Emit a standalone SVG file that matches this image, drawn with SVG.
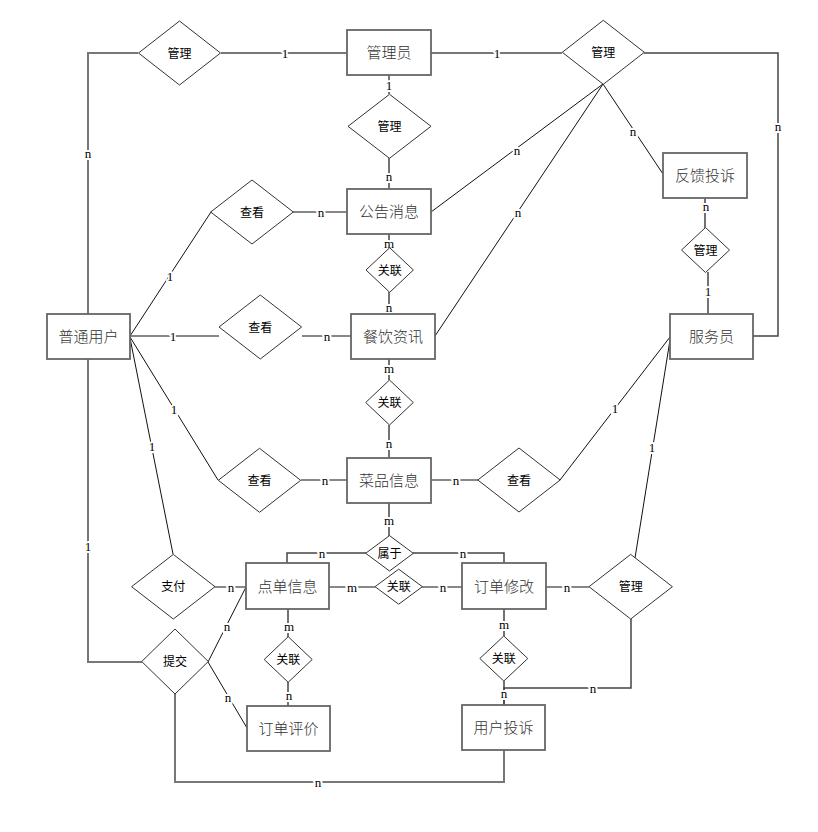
<svg xmlns="http://www.w3.org/2000/svg" width="818" height="832" viewBox="0 0 818 832">
<style>
.ent rect{fill:#fff;stroke:#666;stroke-width:1.8}
.ent text{font-family:"Noto Sans CJK SC","Noto Sans",sans-serif;font-size:15px;font-weight:300;fill:#333;text-anchor:middle;dominant-baseline:central}
.rel polygon{fill:#fff;stroke:#333;stroke-width:1}
.rel text{font-family:"Noto Sans CJK SC","Noto Sans",sans-serif;font-size:12px;fill:#000;text-anchor:middle;dominant-baseline:central}
#connectors path{fill:none;stroke:#111;stroke-width:1}
#connectors path.g{stroke:#777;stroke-width:2}
#connectors path.m{stroke:#444;stroke-width:1.5}
.lbl{font-family:"Liberation Serif",serif;font-size:13px;fill:#000;text-anchor:middle;dominant-baseline:central;paint-order:stroke;stroke:#fff;stroke-width:4px;stroke-linejoin:round}
</style>
<rect width="818" height="832" fill="#fff"/>
<g id="connectors">
<path class="g" d="M88,314V53H138"/>
<path class="g" d="M221,53H347"/>
<path class="g" d="M431,53H562"/>
<path class="m" d="M644,53H778V336H753"/>
<path class="g" d="M389,75V94"/>
<path class="m" d="M389,158V189"/>
<path d="M603,84L431,212"/>
<path d="M603,84L435,336"/>
<path d="M603,84L663,174"/>
<path class="m" d="M705,198V228"/>
<path class="m" d="M708,272V314"/>
<path d="M130,336L211,212"/>
<path d="M293,212H347"/>
<path d="M130,336H219"/>
<path d="M302,336H351"/>
<path class="m" d="M389,234V248"/>
<path class="m" d="M389,292V314"/>
<path class="m" d="M389,359V380"/>
<path class="m" d="M389,425V458"/>
<path d="M130,337L218,480"/>
<path d="M301,480H347"/>
<path d="M431,480H478"/>
<path d="M560,480L670,337"/>
<path d="M130,338L173,554"/>
<path class="g" d="M88,359V662H142"/>
<path d="M215,587H246"/>
<path d="M208,662L246,587"/>
<path d="M208,662L247,728"/>
<path class="g" d="M175,694V782H504V750"/>
<path class="m" d="M389,503V536"/>
<path class="m" d="M366,553H287V563"/>
<path class="m" d="M413,553H504V563"/>
<path d="M329,587H375"/>
<path d="M422,587H462"/>
<path d="M546,587H589"/>
<path d="M635,558L670,340"/>
<path class="m" d="M631,619V688H504V705"/>
<path class="m" d="M288,609V637"/>
<path class="m" d="M288,682V706"/>
<path class="m" d="M504,609V636"/>
<path class="m" d="M504,681V705"/>
<text class="lbl" x="88" y="153">n</text>
<text class="lbl" x="285" y="53">1</text>
<text class="lbl" x="497" y="53">1</text>
<text class="lbl" x="778" y="126">n</text>
<text class="lbl" x="389" y="85">1</text>
<text class="lbl" x="389" y="176">n</text>
<text class="lbl" x="517" y="150">n</text>
<text class="lbl" x="518" y="212">n</text>
<text class="lbl" x="633" y="131">n</text>
<text class="lbl" x="706" y="206">n</text>
<text class="lbl" x="708" y="291">1</text>
<text class="lbl" x="170" y="276">1</text>
<text class="lbl" x="321" y="212">n</text>
<text class="lbl" x="173" y="336">1</text>
<text class="lbl" x="327" y="336">n</text>
<text class="lbl" x="389" y="243">m</text>
<text class="lbl" x="389" y="307">n</text>
<text class="lbl" x="389" y="368">m</text>
<text class="lbl" x="389" y="443">n</text>
<text class="lbl" x="174" y="409">1</text>
<text class="lbl" x="325" y="480">n</text>
<text class="lbl" x="456" y="480">n</text>
<text class="lbl" x="615" y="408">1</text>
<text class="lbl" x="152" y="446">1</text>
<text class="lbl" x="88" y="546">1</text>
<text class="lbl" x="231" y="587">n</text>
<text class="lbl" x="227" y="626">n</text>
<text class="lbl" x="228" y="697">n</text>
<text class="lbl" x="318" y="782">n</text>
<text class="lbl" x="389" y="520">m</text>
<text class="lbl" x="322" y="553">n</text>
<text class="lbl" x="463" y="553">n</text>
<text class="lbl" x="352" y="587">m</text>
<text class="lbl" x="443" y="587">n</text>
<text class="lbl" x="567" y="587">n</text>
<text class="lbl" x="652" y="447">1</text>
<text class="lbl" x="593" y="688">n</text>
<text class="lbl" x="289" y="626">m</text>
<text class="lbl" x="289" y="695">n</text>
<text class="lbl" x="504" y="624">m</text>
<text class="lbl" x="504" y="693">n</text>
</g>
<g id="e-admin" class="ent"><rect x="347" y="30" width="84" height="45"/><text x="389" y="51.5">管理员</text></g>
<g id="e-feedback" class="ent"><rect x="663" y="153" width="84" height="45"/><text x="705" y="174.5">反馈投诉</text></g>
<g id="e-notice" class="ent"><rect x="347" y="189" width="84" height="45"/><text x="389" y="210.5">公告消息</text></g>
<g id="e-news" class="ent"><rect x="351" y="314" width="84" height="45"/><text x="393" y="335.5">餐饮资讯</text></g>
<g id="e-user" class="ent"><rect x="47" y="314" width="83" height="45"/><text x="88.5" y="335.5">普通用户</text></g>
<g id="e-waiter" class="ent"><rect x="670" y="314" width="83" height="45"/><text x="711.5" y="335.5">服务员</text></g>
<g id="e-dish" class="ent"><rect x="347" y="458" width="84" height="45"/><text x="389" y="479.5">菜品信息</text></g>
<g id="e-order" class="ent"><rect x="246" y="563" width="83" height="46"/><text x="287.5" y="585">点单信息</text></g>
<g id="e-modify" class="ent"><rect x="462" y="563" width="84" height="46"/><text x="504" y="585">订单修改</text></g>
<g id="e-review" class="ent"><rect x="247" y="706" width="83" height="45"/><text x="288.5" y="727.5">订单评价</text></g>
<g id="e-complaint" class="ent"><rect x="462" y="705" width="83" height="45"/><text x="503.5" y="726.5">用户投诉</text></g>
<g id="r-manage-tl" class="rel"><polygon points="138.5,53 179.5,21 220.5,53 179.5,85"/><text x="179.5" y="52">管理</text></g>
<g id="r-manage-mid" class="rel"><polygon points="348,126.3 389.5,94.3 431,126.3 389.5,158.3"/><text x="389.5" y="125.5">管理</text></g>
<g id="r-manage-tr" class="rel"><polygon points="562.3,52.3 603.3,20.3 644.3,52.3 603.3,84.3"/><text x="603.3" y="51.5">管理</text></g>
<g id="r-manage-small" class="rel"><polygon points="681.5,250 705.5,227.5 729.5,250 705.5,272.5"/><text x="705.5" y="249">管理</text></g>
<g id="r-view1" class="rel"><polygon points="210.7,212 252,180 293.3,212 252,244"/><text x="252" y="211">查看</text></g>
<g id="r-view2" class="rel"><polygon points="219,327 260.3,295 301.6,327 260.3,359"/><text x="260.3" y="326">查看</text></g>
<g id="r-link1" class="rel"><polygon points="366,270 389.7,247.7 413.4,270 389.7,292.3"/><text x="389.7" y="269">关联</text></g>
<g id="r-link2" class="rel"><polygon points="365.7,402.5 389.5,380 413.3,402.5 389.5,425"/><text x="389.5" y="401.5">关联</text></g>
<g id="r-view3" class="rel"><polygon points="218.3,480.3 259.5,448.3 300.7,480.3 259.5,512.3"/><text x="259.5" y="479.5">查看</text></g>
<g id="r-view4" class="rel"><polygon points="477.8,480 519,448 560.2,480 519,512"/><text x="519" y="479">查看</text></g>
<g id="r-pay" class="rel"><polygon points="131.6,586.7 173.3,554.4 215,586.7 173.3,619"/><text x="173.3" y="585.7">支付</text></g>
<g id="r-submit" class="rel"><polygon points="141.7,661.5 175,629 208.3,661.5 175,694"/><text x="175" y="660.5">提交</text></g>
<g id="r-belong" class="rel"><polygon points="365.7,553.3 389.5,535.6 413.3,553.3 389.5,571"/><text x="389.5" y="552.3">属于</text></g>
<g id="r-link3" class="rel"><polygon points="375,586.7 398.7,569.2 422.4,586.7 398.7,604.2"/><text x="398.7" y="585.7">关联</text></g>
<g id="r-manage-br" class="rel"><polygon points="589,586.7 630.7,554.4 672.4,586.7 630.7,619"/><text x="630.7" y="585.7">管理</text></g>
<g id="r-link4" class="rel"><polygon points="264.2,659.5 288.2,636.7 312.2,659.5 288.2,682.3"/><text x="288.2" y="658.5">关联</text></g>
<g id="r-link5" class="rel"><polygon points="479.8,658.5 503.8,636 527.8,658.5 503.8,681"/><text x="503.8" y="657.5">关联</text></g>
</svg>
